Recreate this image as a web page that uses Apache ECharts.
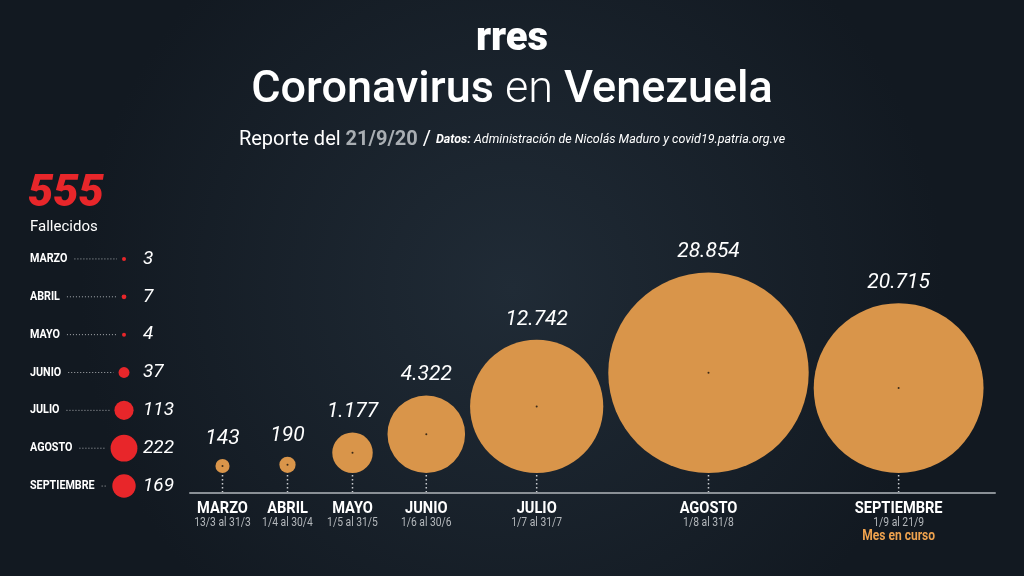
<!DOCTYPE html>
<html>
<head>
<meta charset="utf-8">
<style>
  html, body { margin: 0; padding: 0; background: #171f28; }
  #chart { width: 1024px; height: 576px; }
</style>
<script src="https://cdn.jsdelivr.net/npm/echarts@6/dist/echarts.min.js"></script>
</head>
<body>
<div id="chart"></div>
<script>
// datos
var months = ['MARZO', 'ABRIL', 'MAYO', 'JUNIO', 'JULIO', 'AGOSTO', 'SEPTIEMBRE'];
var ranges = ['13/3 al 31/3', '1/4 al 30/4', '1/5 al 31/5', '1/6 al 30/6', '1/7 al 31/7', '1/8 al 31/8', '1/9 al 21/9'];
var cases = [143, 190, 1177, 4322, 12742, 28854, 20715];
var deaths = [3, 7, 4, 37, 113, 222, 169];
var totalDeaths = 555;
var currentMonth = 6; // SEPTIEMBRE, mes en curso

var ORANGE = '#d9954a';
var RED = '#e8262a';
var FONT = 'Roboto, "Noto Sans", sans-serif';

// radio proporcional al area
function caseR(v) { return 0.59 * Math.sqrt(v); }
function deathR(v) { return 0.9 * Math.sqrt(v); }

// 12345 -> 12.345
function fmt(n) {
	return n.toString().replace(/\B(?=(\d{3})+(?!\d))/g, '.');
}

// posiciones en x: circulos empaquetados uno al lado del otro
var slots = [];
var acc = 0;
for (var i = 0; i < cases.length; i++) {
	var half = Math.max(caseR(cases[i]), 30) + 2.5;
	if (i > 0) acc += half;
	else acc = half;
	slots.push(acc);
	acc += half;
}

var ctx = document.createElement('canvas').getContext('2d');
function textW(str, font) {
	ctx.font = font;
	return ctx.measureText(str).width;
}

var mainData = [];
for (var i = 0; i < cases.length; i++) {
	mainData.push([slots[i], 0, cases[i], i]);
}
var sideData = [];
for (var i = 0; i < deaths.length; i++) {
	sideData.push([0, i, deaths[i], i]);
}

var chart = echarts.init(document.getElementById('chart'));

var option = {
	backgroundColor: {
		type: 'radial', x: 0.5, y: 0.5, r: 0.75,
		colorStops: [{ offset: 0, color: '#202b36' }, { offset: 1, color: '#121921' }]
	},
	animation: false,
	grid: [
		{ left: 190, right: 29, top: 200, bottom: 83 },
		{ left: 124, width: 60, top: 240, height: 265 }
	],
	xAxis: [{
		gridIndex: 0,
		type: 'value',
		min: 0,
		max: 805,
		axisLine: { show: true, lineStyle: { color: '#8a9096', width: 2 } },
		axisTick: { show: false },
		axisLabel: { show: false },
		splitLine: { show: false }
	}, {
		gridIndex: 1,
		type: 'value',
		min: 0,
		max: 1,
		show: false
	}],
	yAxis: [{
		gridIndex: 0,
		type: 'value',
		min: 0,
		max: 1,
		show: false
	}, {
		gridIndex: 1,
		type: 'category',
		inverse: true,
		data: months,
		show: false
	}],
	graphic: [{
		type: 'text',
		left: 'center',
		top: 20,
		style: {
			text: 'rres',
			font: '900 40px ' + FONT,
			fill: '#ffffff'
		}
	}, {
		type: 'text',
		left: 'center',
		top: 68,
		style: {
			text: '{a|Coronavirus }{b|en }{a|Venezuela}',
			rich: {
				a: { font: '500 45px ' + FONT, fill: '#ffffff' },
				b: { font: '300 45px ' + FONT, fill: '#ffffff' }
			}
		}
	}, {
		type: 'text',
		left: 'center',
		top: 130,
		style: {
			text: '{r|Reporte del }{d|21/9/20}{r| / }{s|Datos:}{t| Administración de Nicolás Maduro y covid19.patria.org.ve}',
			rich: {
				r: { font: '400 20px ' + FONT, fill: '#ffffff' },
				d: { font: '700 20px ' + FONT, fill: '#a9aeb3' },
				s: { font: 'italic 700 12.5px ' + FONT, fill: '#ffffff' },
				t: { font: 'italic 400 12.5px ' + FONT, fill: '#ffffff' }
			}
		}
	}, {
		type: 'text',
		left: 28,
		top: 172,
		style: {
			text: String(totalDeaths),
			font: 'italic 900 45px ' + FONT,
			fill: RED
		}
	}, {
		type: 'text',
		left: 30,
		top: 220,
		style: {
			text: 'Fallecidos',
			font: '400 15px ' + FONT,
			fill: '#ffffff'
		}
	}],
	series: [{
		type: 'custom',
		xAxisIndex: 0,
		yAxisIndex: 0,
		data: mainData,
		renderItem: function(params, api) {
			var base = api.coord([api.value(0), 0]);
			var v = api.value(2);
			var idx = api.value(3);
			var r = caseR(v);
			var bottom = base[1] - 20;
			var cy = bottom - r;
			var x = base[0];
			var children = [{
				type: 'line',
				shape: { x1: x, y1: bottom + 2, x2: x, y2: base[1] - 1 },
				style: { stroke: '#c9ccd0', lineWidth: 1.5, lineDash: [1.5, 2.5] }
			}, {
				type: 'circle',
				shape: { cx: x, cy: cy, r: r },
				style: { fill: ORANGE }
			}, {
				type: 'circle',
				shape: { cx: x, cy: cy, r: 1 },
				style: { fill: '#3a2a18' }
			}, {
				type: 'text',
				x: x,
				y: cy - r - 10,
				style: {
					text: fmt(v),
					font: 'italic 400 21px ' + FONT,
					fill: '#ffffff',
					align: 'center',
					verticalAlign: 'bottom'
				}
			}, {
				type: 'text',
				x: x,
				y: base[1] + 7,
				scaleX: 0.86,
				style: {
					text: months[idx],
					font: '700 17px ' + FONT,
					fill: '#ffffff',
					align: 'center',
					verticalAlign: 'top'
				}
			}, {
				type: 'text',
				x: x,
				y: base[1] + 24,
				scaleX: 0.86,
				style: {
					text: ranges[idx],
					font: '400 12px ' + FONT,
					fill: '#b4b8bc',
					align: 'center',
					verticalAlign: 'top'
				}
			}];
			if (idx === currentMonth) {
				children.push({
					type: 'text',
					x: x,
					y: base[1] + 36,
					scaleX: 0.86,
					style: {
						text: 'Mes en curso',
						font: '700 14px ' + FONT,
						fill: '#eea24e',
						align: 'center',
						verticalAlign: 'top'
					}
				});
			}
			return { type: 'group', children: children };
		}
	}, {
		type: 'custom',
		xAxisIndex: 1,
		yAxisIndex: 1,
		data: sideData,
		renderItem: function(params, api) {
			var pt = api.coord([0, api.value(1)]);
			var v = api.value(2);
			var idx = api.value(3);
			var r = deathR(v);
			var labelX = 30;
			var labelFont = '700 12.5px ' + FONT;
			var sx = 0.86;
			var lw = textW(months[idx], labelFont) * sx;
			return {
				type: 'group',
				children: [{
					type: 'text',
					x: labelX,
					y: pt[1],
					scaleX: sx,
					style: {
						text: months[idx],
						font: labelFont,
						fill: '#ffffff',
						align: 'left',
						verticalAlign: 'middle'
					}
				}, {
					type: 'line',
					shape: { x1: labelX + lw + 7, y1: pt[1], x2: pt[0] - Math.max(r, 2) - 5, y2: pt[1] },
					style: { stroke: '#a8acb0', lineWidth: 1, lineDash: [1, 2] }
				}, {
					type: 'circle',
					shape: { cx: pt[0], cy: pt[1], r: Math.max(r, 2) },
					style: { fill: RED }
				}, {
					type: 'text',
					x: 143,
					y: pt[1],
					style: {
						text: fmt(v),
						font: 'italic 400 19px ' + FONT,
						fill: '#ffffff',
						align: 'left',
						verticalAlign: 'middle'
					}
				}]
			};
		}
	}]
};

chart.setOption(option);
</script>
</body>
</html>
